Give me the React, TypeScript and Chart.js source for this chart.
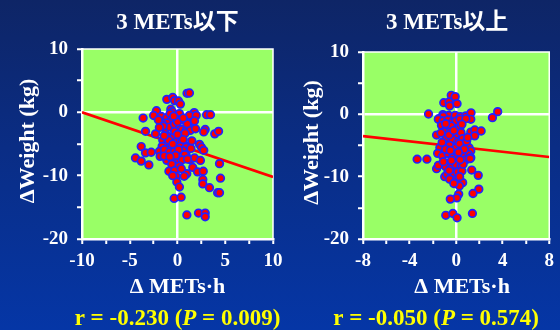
import React, { useEffect, useRef } from 'react';
import { Chart, registerables } from 'chart.js';

Chart.register(...registerables);

const FONT = "'Times New Roman', 'Liberation Serif', 'Noto Sans CJK JP', serif";

// ---- text ----
const leftTitle = '3 METs以下';
const rightTitle = '3 METs以上';
const yAxisTitle = 'ΔWeight (kg)';
const xAxisTitle = 'Δ METs·h';
const leftStat = ['r = -0.230 (', 'P', ' = 0.009)'];
const rightStat = ['r = -0.050 (', 'P', ' = 0.574)'];

// ---- axes ----
const leftXRange = [-10, 10];
const rightXRange = [-8, 8];
const yRange = [-20, 10];
const leftXTickStep = 2.5;
const leftXLabelStep = 5;
const rightXTickStep = 2;
const rightXLabelStep = 4;
const yTickStep = 5;
const yLabelStep = 10;

// ---- regression lines ----
const leftFit = [[-10, 0], [10, -10.2]];
const rightFit = [[-8, -3.5], [8, -6.85]];

// ---- scatter points (ΔMETs·h, ΔWeight) ----
const leftPoints = [
  [1.0, 3.0], [1.25, 3.05], [-1.12, 2.05], [-0.5, 2.35], [-0.3, 1.85], [0.1, 1.8], [0.3, 1.3],
  [-2.2, 0.25], [-0.7, 0.5], [-0.55, 0.1], [0.2, -0.2], [1.75, -0.05],
  [-3.6, -0.9], [-2.5, -0.5], [-1.7, -0.65], [-1.12, -0.84], [-0.77, -0.2], [-0.66, -1.26], [0.2, -1.16],
  [0.5, -1.2], [1.26, -0.48], [1.65, -1.5], [1.96, -0.48], [1.78, -1.37], [3.05, -0.37], [3.45, -0.37],
  [-1.12, -1.68], [-1.6, -1.8], [-1.27, -2.6], [-0.84, -2.32], [-0.31, -1.9], [0.2, -2.6], [0.49, -2.74],
  [0.91, -2.85], [1.33, -2.85], [1.89, -2.6], [2.9, -2.7], [2.75, -3.1],
  [-3.35, -3.0], [-2.3, -3.4], [-1.54, -4.42], [-1.01, -3.79], [-0.38, -3.9], [0.2, -4.16], [0.8, -3.3],
  [-0.14, -4.7], [0.38, -4.7], [3.9, -3.4], [4.3, -3.0],
  [-1.12, -5.0], [-1.61, -5.37], [-0.66, -5.48], [1.08, -5.37], [0.3, -5.4], [0.9, -5.5], [1.4, -5.7],
  [-3.8, -5.4], [2.3, -5.05], [2.5, -5.5], [2.75, -6.0],
  [-3.35, -6.4], [-2.75, -6.3], [-1.89, -6.17], [-1.36, -5.9], [-0.84, -6.27], [-0.31, -6.17], [0.56, -6.0],
  [0.91, -6.8], [0.75, -6.7], [1.33, -7.5], [1.78, -7.2],
  [-4.4, -7.2], [-3.8, -7.7], [-3.0, -8.3], [-1.82, -6.95], [-1.12, -7.58], [-0.49, -7.85], [0.2, -7.58],
  [0.5, -7.5], [1.05, -7.4], [2.4, -7.6], [4.4, -8.1],
  [-0.6, -8.2], [0.17, -8.5], [1.6, -8.7], [2.1, -9.4], [2.7, -9.3], [0.84, -9.85], [0.97, -9.7],
  [-0.9, -9.3], [-0.3, -9.2], [-0.14, -10.1], [0.7, -10.1], [4.5, -10.4],
  [-0.07, -11.0], [0.2, -11.8], [2.65, -10.6], [2.65, -11.3], [3.35, -11.9], [4.2, -12.7], [4.4, -12.7],
  [-0.35, -13.6], [0.38, -13.4], [0.98, -16.2], [2.2, -15.9], [2.9, -15.9], [2.9, -16.5],
  [-1.5, -2.2], [-0.3, -3.0], [0.0, -3.5], [-0.9, -4.4], [-0.5, -5.0], [0.1, -5.9], [-1.9, -2.4],
  [-1.4, -3.7], [0.6, -4.3], [-0.2, -6.8], [-1.4, -6.9], [-0.8, -7.0], [0.4, -8.9], [-0.5, -10.0],
  [1.5, -4.5], [0.0, -1.5], [-0.4, -0.6], [1.0, -1.8], [-2.0, -1.2], [0.6, -0.9],
];

const rightPoints = [
  [-0.42, 3.05], [-0.08, 2.84], [-1.06, 1.87], [-0.61, 1.98], [-0.56, 1.34], [0.08, 1.71],
  [-2.37, 0.05], [-1.14, -0.05], [-0.64, -0.16], [-0.08, -0.16], [0.37, -0.37], [0.82, -0.27],
  [1.28, 0.25], [1.26, -0.8], [3.12, -0.53], [3.57, 0.43], [-1.5, -0.7], [-1.1, -0.3],
  [-1.53, -0.8], [-1.12, -1.07], [-0.7, -0.91], [-0.34, -1.34], [0.0, -1.07], [0.34, -0.8], [0.84, -0.7],
  [-1.26, -1.77], [-0.84, -2.14], [-0.42, -1.87], [0.0, -2.41], [0.34, -2.03],
  [1.26, -2.84], [1.6, -2.5], [2.15, -2.67], [1.6, -3.45],
  [-1.68, -3.32], [-1.06, -2.78], [-0.5, -2.83], [0.0, -3.21], [0.42, -2.94],
  [-0.84, -3.74], [-0.34, -4.01], [0.14, -4.44], [0.56, -3.9],
  [-1.4, -5.35], [-0.56, -4.98], [0.0, -5.35], [0.56, -5.08], [1.12, -5.35], [1.26, -5.89], [1.06, -6.42],
  [-1.59, -6.26], [-1.17, -6.69], [-0.7, -6.26], [-0.28, -6.95], [0.14, -6.69], [0.5, -6.26],
  [-3.35, -7.2], [-2.51, -7.2],
  [-1.68, -8.72], [-1.53, -8.19], [-0.89, -8.4], [-0.42, -8.56], [0.0, -8.03], [0.42, -8.19],
  [0.89, -7.22], [1.26, -6.95], [1.2, -7.1],
  [-0.98, -10.0], [-0.78, -9.63], [-0.28, -9.36], [0.14, -9.26], [0.5, -9.1], [1.34, -8.94], [1.9, -9.79],
  [-0.56, -10.4], [0.0, -10.7], [0.56, -10.96], [1.95, -12.0], [1.45, -12.7], [0.28, -11.5],
  [0.22, -12.8], [0.06, -13.4], [-0.5, -13.6],
  [-0.89, -16.2], [-0.28, -15.9], [0.08, -16.6], [1.4, -15.9],
  [-1.2, -4.5], [-0.6, -3.3], [0.3, -4.7], [0.7, -5.6], [-0.9, -5.6], [0.2, -6.1], [-0.4, -7.4],
  [0.6, -8.0], [-1.1, -7.6], [-0.2, -2.6], [0.5, -1.6], [-0.9, -1.5], [-1.3, -3.0], [0.9, -4.3],
  [-0.5, -5.8], [0.35, -7.3], [-0.6, -9.0], [0.3, -10.0], [-0.2, -11.1], [1.0, -3.7],
];

type PanelCfg = {
  points: number[][];
  fit: number[][];
  xRange: number[];
  xTickStep: number;
  xLabelStep: number;
  plot: { left: number; right: number; top: number; bottom: number };
  title: string;
  titleDx: number;
  xTitleDx: number;
  yTitleX: number;
  stat: string[];
  statDx: number;
};

const Y_AXIS_W = 40;
const X_AXIS_H = 30;
const W = 560;
const H = 330;

function drawStat(ctx: CanvasRenderingContext2D, parts: string[], cx: number, y: number) {
  const normal = `bold 23px ${FONT}`;
  const italic = `italic bold 23px ${FONT}`;
  const fonts = [normal, italic, normal];
  let total = 0;
  const widths = parts.map((p, i) => {
    ctx.font = fonts[i];
    const w = ctx.measureText(p).width;
    total += w;
    return w;
  });
  let x = cx - total / 2;
  ctx.fillStyle = '#ffff00';
  ctx.textAlign = 'left';
  ctx.textBaseline = 'middle';
  parts.forEach((p, i) => {
    ctx.font = fonts[i];
    ctx.fillText(p, x, y);
    x += widths[i];
  });
}

function makeChart(canvas: HTMLCanvasElement, cfg: PanelCfg) {
  const decor = {
    id: 'decor',
    beforeDraw(chart: any) {
      const { ctx, chartArea: a } = chart;
      ctx.save();
      ctx.fillStyle = '#99ff66';
      ctx.fillRect(a.left, a.top, a.right - a.left, a.bottom - a.top);
      ctx.restore();
    },
    beforeDatasetsDraw(chart: any) {
      const { ctx, chartArea: a } = chart;
      ctx.save();
      ctx.strokeStyle = '#ffffff';
      ctx.lineWidth = 1.5;
      ctx.beginPath();
      ctx.moveTo(a.left, a.top);
      ctx.lineTo(a.right, a.top);
      ctx.lineTo(a.right, a.bottom);
      ctx.stroke();
      ctx.restore();
    },
    afterDraw(chart: any) {
      const { ctx, chartArea: a } = chart;
      const cx = (a.left + a.right) / 2;
      const cy = (a.top + a.bottom) / 2;
      ctx.save();
      ctx.fillStyle = '#ffffff';
      ctx.textAlign = 'center';
      ctx.textBaseline = 'middle';
      ctx.font = `bold 23px ${FONT}`;
      ctx.fillText(cfg.title, cx + cfg.titleDx, 23);
      ctx.font = `bold 22px ${FONT}`;
      ctx.fillText(xAxisTitle, cx + cfg.xTitleDx, 287);
      ctx.save();
      ctx.translate(cfg.yTitleX, cy - 3);
      ctx.rotate(-Math.PI / 2);
      ctx.fillText(yAxisTitle, 0, 0);
      ctx.restore();
      drawStat(ctx, cfg.stat, cx + cfg.statDx, 319);
      ctx.restore();
    },
  };

  const tickFont = { family: FONT, size: 19, weight: 'bold' as const };
  const gridCfg = {
    color: (c: any) => (c.tick && c.tick.value === 0 ? '#ffffff' : 'rgba(0,0,0,0)'),
    lineWidth: 2.5,
    tickColor: '#ffffff',
    tickWidth: 2,
    tickLength: 5,
    drawTicks: true,
  };

  return new Chart(canvas, {
    type: 'scatter',
    data: {
      datasets: [
        {
          type: 'scatter',
          data: cfg.points.map(([x, y]) => ({ x, y })),
          backgroundColor: '#ff0000',
          borderColor: '#2222ff',
          borderWidth: 1.7,
          pointRadius: 3.8,
          order: 1,
        },
        {
          type: 'line',
          data: cfg.fit.map(([x, y]) => ({ x, y })),
          borderColor: '#ff0000',
          borderWidth: 2.6,
          pointRadius: 0,
          fill: false,
          order: 2,
        } as any,
      ],
    },
    options: {
      animation: false,
      responsive: false,
      maintainAspectRatio: false,
      devicePixelRatio: 1,
      layout: {
        padding: {
          left: cfg.plot.left - Y_AXIS_W,
          right: W - cfg.plot.right,
          top: cfg.plot.top,
          bottom: H - cfg.plot.bottom - X_AXIS_H,
        },
      },
      plugins: { legend: { display: false }, tooltip: { enabled: false }, title: { display: false } },
      scales: {
        x: {
          type: 'linear',
          min: cfg.xRange[0],
          max: cfg.xRange[1],
          afterFit: (s: any) => { s.height = X_AXIS_H; },
          ticks: {
            stepSize: cfg.xTickStep,
            autoSkip: false,
            maxRotation: 0,
            color: '#ffffff',
            font: tickFont,
            padding: 6,
            callback: (v: any) => (Math.abs(Number(v) % cfg.xLabelStep) < 1e-9 ? String(v) : ''),
          },
          grid: gridCfg,
          border: { color: '#ffffff', width: 2.5 },
        },
        y: {
          type: 'linear',
          min: yRange[0],
          max: yRange[1],
          afterFit: (s: any) => { s.width = Y_AXIS_W; },
          ticks: {
            stepSize: yTickStep,
            autoSkip: false,
            color: '#ffffff',
            font: tickFont,
            padding: 9,
            callback: (v: any) => (Math.abs(Number(v) % yLabelStep) < 1e-9 ? String(v) : ''),
          },
          grid: gridCfg,
          border: { color: '#ffffff', width: 2.5 },
        },
      },
    },
    plugins: [decor],
  } as any);
}

export default function App() {
  const leftRef = useRef<HTMLCanvasElement>(null);
  const rightRef = useRef<HTMLCanvasElement>(null);

  useEffect(() => {
    document.body.style.margin = '0';
    const c1 = makeChart(leftRef.current!, {
      points: leftPoints,
      fit: leftFit,
      xRange: leftXRange,
      xTickStep: leftXTickStep,
      xLabelStep: leftXLabelStep,
      plot: { left: 82, right: 273, top: 49, bottom: 239 },
      title: leftTitle,
      titleDx: 0,
      xTitleDx: 0,
      yTitleX: 28,
      stat: leftStat,
      statDx: 0,
    });
    const c2 = makeChart(rightRef.current!, {
      points: rightPoints,
      fit: rightFit,
      xRange: rightXRange,
      xTickStep: rightXTickStep,
      xLabelStep: rightXLabelStep,
      plot: { left: 363, right: 554, top: 52, bottom: 239 },
      title: rightTitle,
      titleDx: -9,
      xTitleDx: 6,
      yTitleX: 312,
      stat: rightStat,
      statDx: -20,
    });
    return () => {
      c1.destroy();
      c2.destroy();
    };
  }, []);

  const canvasStyle: React.CSSProperties = { position: 'absolute', left: 0, top: 0, width: W, height: H };
  return (
    <div
      style={{
        position: 'relative',
        width: W,
        height: H,
        overflow: 'hidden',
        background: 'linear-gradient(180deg, #0e2566 0%, #0a2d85 45%, #0536a6 100%)',
      }}
    >
      <canvas ref={leftRef} width={W} height={H} style={canvasStyle} />
      <canvas ref={rightRef} width={W} height={H} style={canvasStyle} />
    </div>
  );
}
